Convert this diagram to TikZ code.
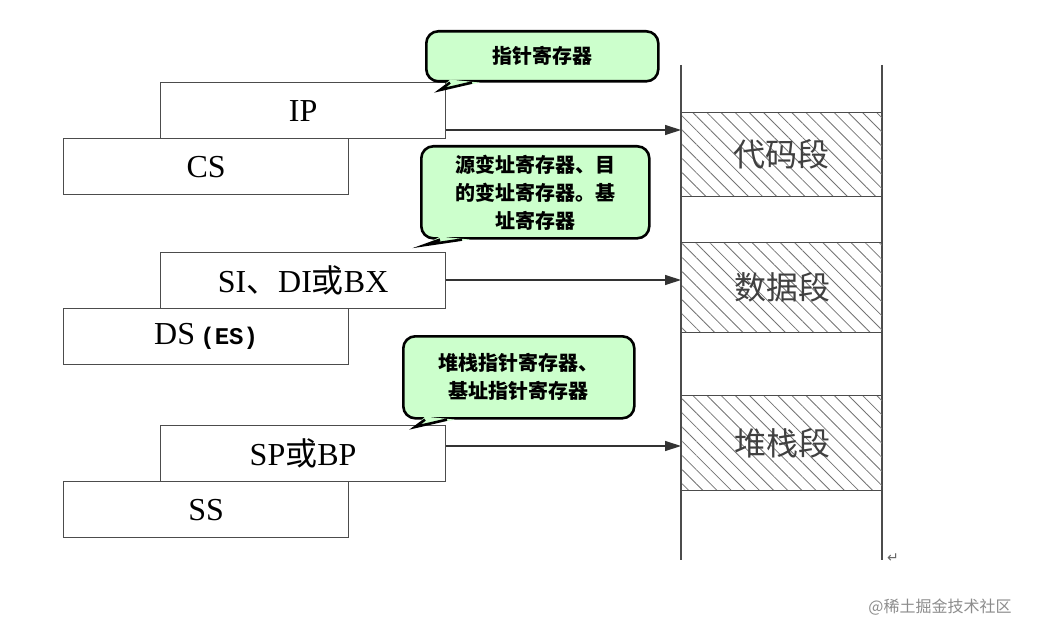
\documentclass[tikz,border=0pt]{standalone}
\usepackage{fontspec}
\setmainfont{Liberation Serif}
\setmonofont{Liberation Mono}
\newfontfamily\cjk{Noto Sans CJK SC}
\newfontfamily\sym{DejaVu Sans}
\usetikzlibrary{positioning, arrows.meta, patterns.meta}

\begin{document}
\begin{tikzpicture}[x=0.5pt, y=-0.5pt,
    reg/.style={draw=black!70, semithick, minimum width=142.5pt, minimum height=28pt, inner sep=0pt, font=\fontsize{16}{16}\selectfont},
    seg/.style={draw=black!70, semithick, pattern={Lines[angle=-45, distance=5pt, line width=0.4pt]}, pattern color=black!55},
    tip/.style={-{Triangle[length=8pt, width=5pt]}, semithick, black!80},
    note/.style={draw=black, line width=1.3pt, rounded corners=6pt, fill=green!20, align=center, font=\cjk\bfseries\fontsize{10}{14}\selectfont, inner sep=2pt},
    lab/.style={font=\cjk\fontsize{16}{16}\selectfont, text=black!75}
]
\useasboundingbox (0,0) rectangle (1037,636);

% --- memory column ---
\draw[black!70, semithick] (681,65) -- (681,560);
\draw[black!70, semithick] (882,65) -- (882,560);
\node[seg, minimum width=100.5pt, minimum height=42pt, inner sep=0pt, anchor=north west] (code) at (681,112) {};
\node[seg, minimum width=100.5pt, minimum height=45pt, inner sep=0pt, anchor=north west] (data) at (681,242) {};
\node[seg, minimum width=100.5pt, minimum height=47.5pt, inner sep=0pt, anchor=north west] (stack) at (681,395) {};
\node[lab] at (code.center) {代码段};
\node[lab] at (data.center) {数据段};
\node[lab] at (stack.center) {堆栈段};

% --- registers ---
\node[reg, anchor=north west] (ip) at (160,82) {IP};
\node[reg, anchor=north west] (cs) at (63,138) {CS};
\node[reg, anchor=north west] (si) at (160,252) {SI{\cjk 、}DI{\cjk 或}BX};
\node[reg, anchor=north west] (ds) at (63,308) {DS\,{\ttfamily\bfseries\fontsize{12}{12}\selectfont(ES)}};
\node[reg, anchor=north west] (sp) at (160,425) {SP{\cjk 或}BP};
\node[reg, anchor=north west] (ss) at (63,481) {SS};

% --- arrows ---
\coordinate (a1) at (681,130);
\coordinate (a2) at (681,280);
\coordinate (a3) at (681,446);
\draw[tip] (ip.east |- a1) -- (a1);
\draw[tip] (si.east |- a2) -- (a2);
\draw[tip] (sp.east |- a3) -- (a3);

% --- callouts ---
\node[note, minimum width=116pt, minimum height=25pt, anchor=north west] (n1) at (425,30) {指针寄存器};
\node[note, minimum width=114pt, minimum height=46pt, anchor=north west] (n2) at (420,145) {源变址寄存器、目\\的变址寄存器。基\\址寄存器};
\node[note, minimum width=115.5pt, minimum height=41pt, anchor=north west] (n3) at (402,335) {堆栈指针寄存器、\\基址指针寄存器};
\coordinate (p1) at (440,90);
\coordinate (p2) at (425,245);
\coordinate (p3) at (415,427);
\foreach \n/\p/\x in {n1/p1/450, n2/p2/440, n3/p3/425} {
  \fill[green!20] (\x,0 |- \n.south) ++(0,-3) -- (\p) -- (\x+30,0 |- \n.south) ++(0,-3) -- cycle;
  \draw[line width=1.3pt, line join=miter] (\x,0 |- \n.south) -- (\p) -- (\x+22,0 |- \n.south);
}

% --- marks ---
\node[font=\sym\fontsize{7}{7}\selectfont, text=black!60] (ret) at (893,558) {↵};
\node[font=\cjk\fontsize{8}{8}\selectfont, text=black!45] (wm) at (940,607) {@稀土掘金技术社区};
\end{tikzpicture}
\end{document}
